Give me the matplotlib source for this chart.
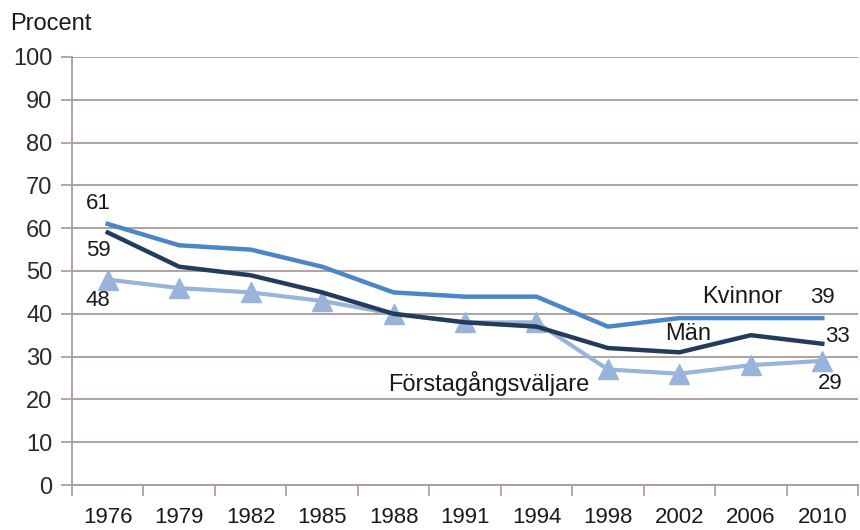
import matplotlib
matplotlib.use("Agg")
import matplotlib.pyplot as plt
from matplotlib import font_manager

ar = ["1976", "1979", "1982", "1985", "1988", "1991", "1994", "1998", "2002", "2006", "2010"]
kvinnor = [61, 56, 55, 51, 45, 44, 44, 37, 39, 39, 39]
man = [59, 51, 49, 45, 40, 38, 37, 32, 31, 35, 33]
forsta = [48, 46, 45, 43, 40, 38, 38, 27, 26, 28, 29]

namn = {f.name for f in font_manager.fontManager.ttflist}
smal = "Liberation Sans Narrow" if "Liberation Sans Narrow" in namn else "Liberation Sans"

plt.rcParams["font.family"] = ["Liberation Sans", "DejaVu Sans"]

fig = plt.figure(figsize=(8.6, 5.3), dpi=100)
ax = fig.add_axes([0.0837, 0.0849, 0.9140, 0.8076])

x = list(range(len(ar)))
ax.plot(x, forsta, color="#98b4da", lw=3, marker="^", markersize=15, zorder=3)
ax.plot(x, man, color="#243b5c", lw=3.2, zorder=4)
ax.plot(x, kvinnor, color="#4a86c8", lw=3.2, zorder=5)

ax.set_ylim(0, 100)
ax.set_xlim(-0.5, len(ar) - 0.5)
ax.set_yticks(range(0, 101, 10))
ax.yaxis.grid(True, color="#a89a98", lw=1.3)
ax.set_axisbelow(True)
for s in ["top", "right"]:
    ax.spines[s].set_visible(False)
ax.spines["left"].set_color("#a89a98")
ax.spines["bottom"].set_color("#a89a98")
ax.spines["left"].set_linewidth(1.3)
ax.spines["bottom"].set_linewidth(1.3)

# tickstreck mellan kategorierna, etiketter mitt under
ax.set_xticks([i - 0.5 for i in range(len(ar) + 1)], minor=False)
ax.set_xticklabels([])
ax.set_xticks(x, minor=True)
ax.set_xticklabels(ar, minor=True, fontsize=18 if smal != "Liberation Sans" else 16,
                   family=smal, color="#1a1a1a")
ax.tick_params(axis="x", which="major", length=8, color="#a89a98", width=1.2)
ax.tick_params(axis="x", which="minor", length=0, pad=16)
ax.tick_params(axis="y", length=8, color="#a89a98", width=1.2, labelsize=17,
               labelcolor="#2a2a2a", pad=6)

fig.text(0.012, 0.955, "Procent", fontsize=17, color="#1a1a1a", va="center")

def etikett(txt, xi, yi, dx, dy, ha="center", storlek=16):
    ax.annotate(txt, (xi, yi), xytext=(dx, dy), textcoords="offset points",
                ha=ha, va="center", fontsize=storlek, color="#1a1a1a")

etikett(str(kvinnor[0]), 0, kvinnor[0], -7, 15)
etikett(str(man[0]), 0, man[0], -7, -13)
etikett(str(forsta[0]), 0, forsta[0], -7, -15)
etikett(str(kvinnor[-1]), 10, kvinnor[-1], 0, 15)
etikett(str(man[-1]), 10, man[-1], 11, 5)
etikett(str(forsta[-1]), 10, forsta[-1], 6, -16)
etikett("Kvinnor", 9, kvinnor[-1], -6.5, 15, storlek=17)
etikett("Män", 8, man[-1], 6, 7, storlek=17)
etikett("Förstagångsväljare", 7, forsta[7], -13, -10, ha="right", storlek=17)

fig.savefig("out.png", dpi=100)
